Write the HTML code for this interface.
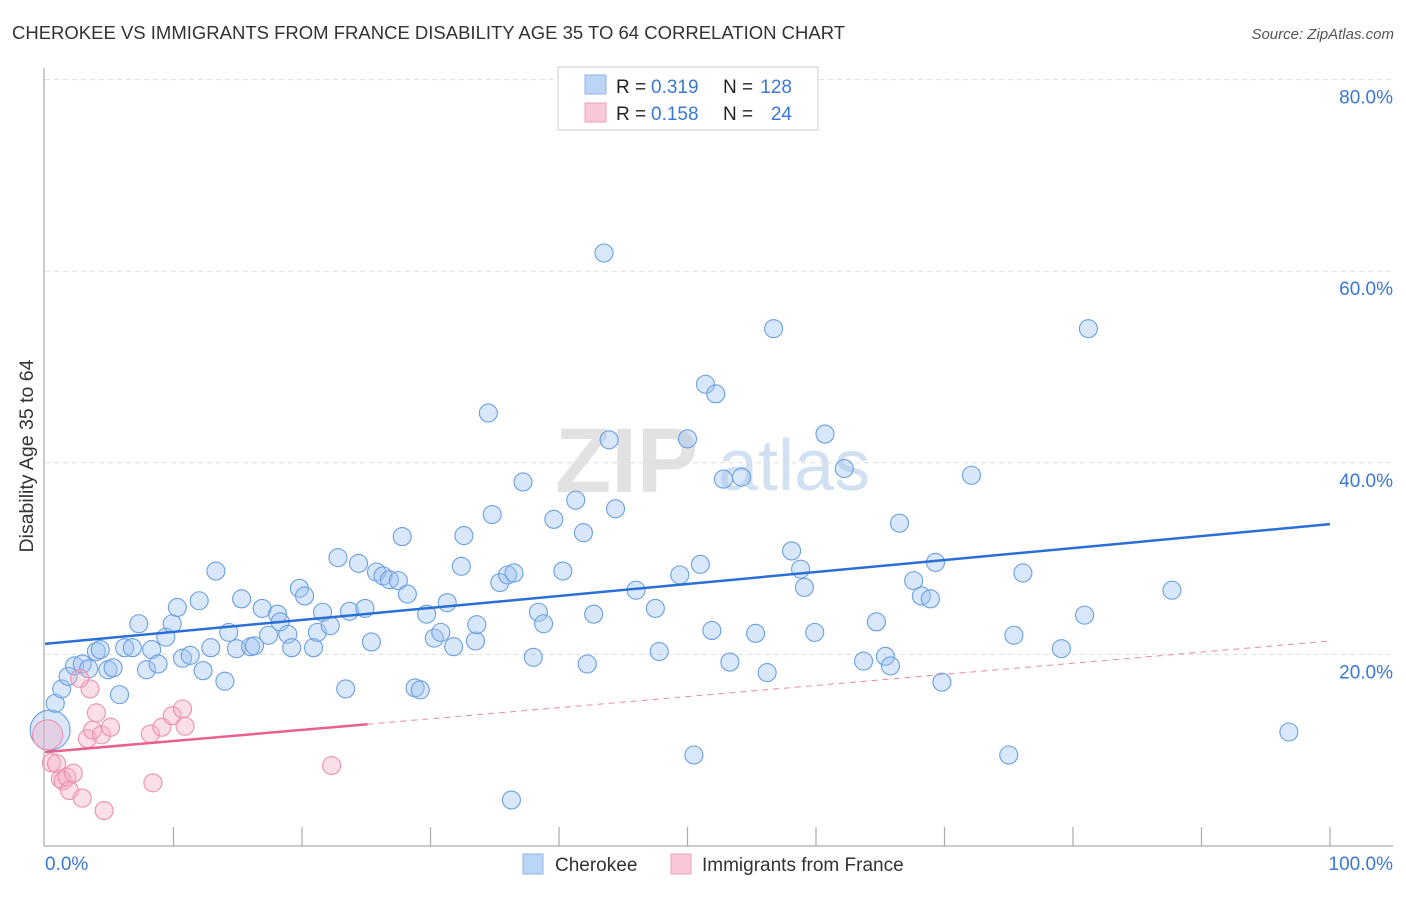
<!DOCTYPE html>
<html><head><meta charset="utf-8"><style>
body{margin:0;background:#fff;font-family:"Liberation Sans",sans-serif;}
svg text{font-family:"Liberation Sans",sans-serif;}
</style></head><body>
<svg id="chart" width="1406" height="892" xmlns="http://www.w3.org/2000/svg">
<text x="12" y="39" font-size="18.5" fill="#333">CHEROKEE VS IMMIGRANTS FROM FRANCE DISABILITY AGE 35 TO 64 CORRELATION CHART</text>
<text x="1394" y="39" font-size="15" fill="#555" text-anchor="end" font-style="italic">Source: ZipAtlas.com</text>
<g>
<text x="555" y="492" font-size="92" fill="#e2e2e2" font-family="Liberation Serif" font-weight="bold">ZIP</text>
<text x="718" y="490" font-size="72" fill="#d2e1f2">atlas</text>
</g>
<g id="grid"></g>
<g id="axes"></g>
<g id="pts"></g>
<g id="trends"></g>
<text transform="translate(33,456) rotate(-90)" font-size="19.5" fill="#333" text-anchor="middle">Disability Age 35 to 64</text>
<g>
<rect x="558" y="67" width="260" height="63" fill="#fff" stroke="#ccc"/>
<rect x="585" y="75" width="21" height="19" fill="#bcd4f5" stroke="#8fb3e8"/>
<text x="616" y="93" font-size="19" fill="#222">R =</text>
<text x="651" y="93" font-size="19" fill="#3a78d4">0.319</text>
<text x="723" y="93" font-size="19" fill="#222">N =</text>
<text x="792" y="93" font-size="19" fill="#3a78d4" text-anchor="end">128</text>
<rect x="585" y="103" width="21" height="19" fill="#f9c8d6" stroke="#f0a0b8"/>
<text x="616" y="120" font-size="19" fill="#222">R =</text>
<text x="651" y="120" font-size="19" fill="#3a78d4">0.158</text>
<text x="723" y="120" font-size="19" fill="#222">N =</text>
<text x="792" y="120" font-size="19" fill="#3a78d4" text-anchor="end">24</text>
</g>
<g>
<rect x="523" y="854" width="20" height="20" fill="#bcd4f5" stroke="#8fb3e8"/>
<text x="555" y="871" font-size="19" fill="#333">Cherokee</text>
<rect x="671" y="854" width="20" height="20" fill="#f9c8d6" stroke="#f0a0b8"/>
<text x="702" y="871" font-size="19" fill="#333">Immigrants from France</text>
</g>
</svg>
<script>
const blueX=[0.4,0.8,1.3,1.8,2.3,2.9,3.4,4.0,4.3,4.9,5.3,5.8,6.2,6.8,7.3,7.9,8.3,8.8,9.4,9.9,10.3,10.7,11.3,12.0,12.3,12.9,13.3,14.0,14.3,14.9,15.3,16.0,16.3,16.9,17.4,18.1,18.3,18.9,19.2,19.8,20.2,20.9,21.2,21.6,22.2,22.8,23.4,23.7,24.4,24.9,25.4,25.8,26.3,26.8,27.5,27.8,28.2,28.8,29.2,29.7,30.3,30.8,31.3,31.8,32.4,32.6,33.5,33.6,34.5,34.8,35.4,36.0,36.5,36.3,37.2,38.0,38.4,38.8,39.6,40.3,41.3,41.9,42.2,42.7,43.5,43.9,44.4,46.0,47.5,47.8,49.4,50.0,50.5,51.0,51.4,51.9,52.2,52.8,53.3,54.2,55.3,56.2,56.7,58.1,58.8,59.1,59.9,60.7,62.2,63.7,64.7,65.4,65.8,66.5,67.6,68.2,68.9,69.3,69.8,72.1,75.0,75.4,76.1,79.1,80.9,81.2,87.7,96.8];
const blueY=[12.1,14.9,16.4,17.7,18.8,19.0,18.5,20.3,20.5,18.4,18.6,15.8,20.7,20.7,23.2,18.4,20.5,19.0,21.8,23.2,24.9,19.6,19.9,25.6,18.3,20.7,28.7,17.2,22.3,20.6,25.8,20.8,20.9,24.8,22.0,24.2,23.4,22.1,20.7,26.9,26.1,20.7,22.3,24.4,23.0,30.1,16.4,24.5,29.5,24.8,21.3,28.6,28.2,27.8,27.7,32.3,26.3,16.5,16.3,24.2,21.7,22.3,25.4,20.8,29.2,32.4,21.4,23.1,45.2,34.6,27.5,28.3,28.5,4.8,38.0,19.7,24.4,23.2,34.1,28.7,36.1,32.7,19.0,24.2,61.9,42.4,35.2,26.7,24.8,20.3,28.3,42.5,9.5,29.4,48.2,22.5,47.2,38.3,19.2,38.5,22.2,18.1,54.0,30.8,28.9,27.0,22.3,43.0,39.4,19.3,23.4,19.8,18.8,33.7,27.7,26.1,25.8,29.6,17.1,38.7,9.5,22.0,28.5,20.6,24.1,54.0,26.7,11.9];
const pinkX=[0.2,0.5,0.9,1.2,1.4,1.7,1.9,2.2,2.9,3.3,3.5,2.7,3.7,4.0,4.4,4.6,5.1,8.2,8.4,9.1,9.9,10.7,10.9,22.3];
const pinkY=[11.6,8.7,8.6,7.0,6.8,7.2,5.8,7.6,5.0,11.2,16.4,17.5,12.1,13.9,11.6,3.7,12.4,11.7,6.6,12.4,13.6,14.3,12.5,8.4];
const yTicks=[20,40,60,80];
const xTickLabels=["0.0%","100.0%"];
const blueTrend=[21.1,33.6];
const pinkTrend=[9.8,21.4];
const pinkSolidEnd=25.1;

const X=v=>45+v*12.85, Y=v=>846-v*9.58;
const NS="http://www.w3.org/2000/svg";
function mk(t,a,p){const e=document.createElementNS(NS,t);for(const k in a)e.setAttribute(k,a[k]);p.appendChild(e);return e;}
const grid=document.getElementById('grid'),axes=document.getElementById('axes'),pts=document.getElementById('pts'),tr=document.getElementById('trends');
yTicks.forEach(t=>{
 const l=mk('line',{x1:45,x2:1393,y1:Y(t),y2:Y(t),stroke:'#ddd','stroke-dasharray':'5,4'},grid);
 
 
 const tx=mk('text',{x:1393,y:Y(t)+24,'font-size':19,fill:'#3a78d4','text-anchor':'end'},axes);
 tx.textContent=t.toFixed(1)+'%';
 
 
});
mk('line',{x1:44,x2:44,y1:68,y2:846,stroke:'#aaa','stroke-width':1.2},axes);
mk('line',{x1:44,x2:1393,y1:846,y2:846,stroke:'#aaa','stroke-width':1.2},axes);
for(let i=1;i<=10;i++){mk('line',{x1:X(i*10),x2:X(i*10),y1:827,y2:846,stroke:'#aaa','stroke-width':1.2},axes);}
let t0=mk('text',{x:45,y:870,'font-size':19,fill:'#3a78d4'},axes);t0.textContent=xTickLabels[0];


let t1=mk('text',{x:1393,y:870,'font-size':19,fill:'#3a78d4','text-anchor':'end'},axes);t1.textContent=xTickLabels[1];


blueX.forEach((v,i)=>{
 const c=mk('circle',{cx:X(v),cy:Y(blueY[i]),r:i==0?20:9,fill:'rgba(160,196,242,0.4)',stroke:'#6a9fe0','stroke-width':1.1},pts);
 
 
});
pinkX.forEach((v,i)=>{
 const c=mk('circle',{cx:X(v),cy:Y(pinkY[i]),r:i==0?15:9,fill:'rgba(245,175,198,0.4)',stroke:'#ec8fae','stroke-width':1.1},pts);
 
 
});
const bl=mk('line',{x1:X(0),y1:Y(blueTrend[0]),x2:X(100),y2:Y(blueTrend[1]),stroke:'#2a6fd6','stroke-width':2.5},tr);


const pv=x=>pinkTrend[0]+(pinkTrend[1]-pinkTrend[0])*x/100;
const ps=mk('line',{x1:X(0),y1:Y(pv(0)),x2:X(pinkSolidEnd),y2:Y(pv(pinkSolidEnd)),stroke:'#e8608e','stroke-width':2.5},tr);


const pd=mk('line',{x1:X(pinkSolidEnd),y1:Y(pv(pinkSolidEnd)),x2:X(100),y2:Y(pv(100)),stroke:'#e88aa8','stroke-width':1,'stroke-dasharray':'6,5'},tr);


</script>
</body></html>
